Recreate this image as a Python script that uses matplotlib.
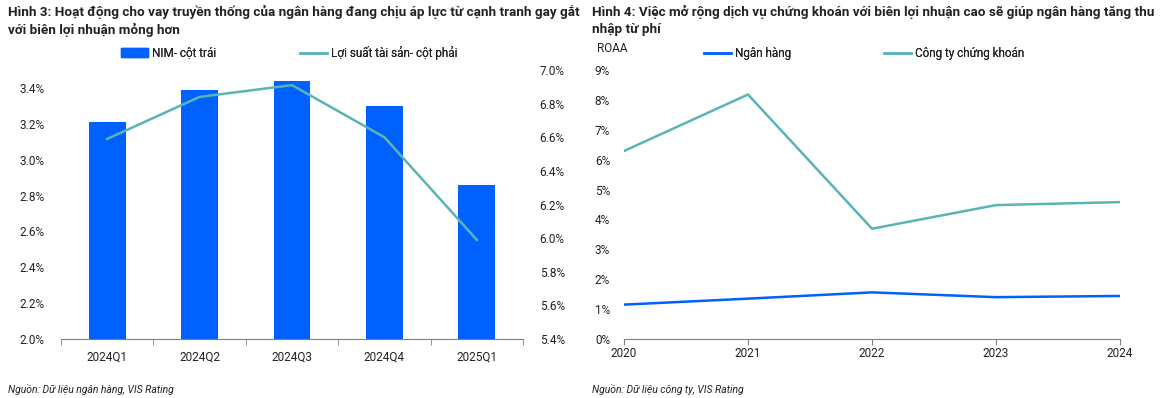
import matplotlib
matplotlib.use('Agg')

import matplotlib.pyplot as plt
from matplotlib.ticker import FuncFormatter
from matplotlib.patches import Patch
from matplotlib.lines import Line2D

plt.rcParams['font.family'] = ['Roboto', 'DejaVu Sans']

# ---------- Data ----------

quarters = ["2024Q1", "2024Q2", "2024Q3", "2024Q4", "2025Q1"]
nim = [3.21, 3.39, 3.44, 3.30, 2.86]
asset_yield = [6.59, 6.84, 6.91, 6.60, 5.99]

years = ["2020", "2021", "2022", "2023", "2024"]
roaa_bank = [1.15, 1.35, 1.56, 1.40, 1.44]
roaa_securities = [6.29, 8.18, 3.69, 4.48, 4.58]

blue = "#0061FE"
teal = "#5AB4B4"
gray = "#808080"
txt = "#222222"

W, H = 1174, 398
fig = plt.figure(figsize=(W / 100, H / 100), dpi=100)


def px(x0, y0, x1, y1):
    return [x0 / W, 1 - y1 / H, (x1 - x0) / W, (y1 - y0) / H]


def legend_at(handle, x, y):
    leg = fig.legend(handles=[handle], loc="center left", bbox_to_anchor=(x / W, 1 - y / H),
                     frameon=False, fontsize=8.5, handlelength=2.3, handletextpad=0.3,
                     borderaxespad=0, borderpad=0, labelcolor=txt)
    fig.add_artist(leg)


# ---------- Hinh 3 ----------

ax1 = fig.add_axes(px(61, 70, 523, 339))
xpos = list(range(len(quarters)))
ax1.bar(xpos, nim, width=0.4, color=blue, zorder=2)
ax1.set_ylim(2.0, 3.5)
ax1.set_yticks([2.0, 2.2, 2.4, 2.6, 2.8, 3.0, 3.2, 3.4])
ax1.yaxis.set_major_formatter(FuncFormatter(lambda v, p: f"{v:.1f}%"))
ax1.set_xlim(-0.5, len(quarters) - 0.5)
ax1.set_xticks(xpos)
ax1.set_xticklabels(quarters)
ax1.set_xticks([i - 0.5 for i in range(len(quarters) + 1)], minor=True)
ax1.tick_params(axis='x', which='major', length=0, pad=8, labelsize=8.5, colors=txt)
ax1.tick_params(axis='x', which='minor', length=4, color=gray, direction='out')
ax1.tick_params(axis='y', length=0, pad=12, labelsize=8.5, colors=txt)
for s in ["top", "left", "right"]:
    ax1.spines[s].set_visible(False)
ax1.spines["bottom"].set_color(gray)

ax1b = ax1.twinx()
ax1b.plot(xpos, asset_yield, color=teal, lw=1.8, zorder=3)
ax1b.set_ylim(5.4, 7.0)
ax1b.set_yticks([5.4, 5.6, 5.8, 6.0, 6.2, 6.4, 6.6, 6.8, 7.0])
ax1b.yaxis.set_major_formatter(FuncFormatter(lambda v, p: f"{v:.1f}%"))
ax1b.tick_params(axis='y', length=0, pad=12, labelsize=8.5, colors=txt)
for s in ["top", "left", "right", "bottom"]:
    ax1b.spines[s].set_visible(False)

legend_at(Patch(color=blue, label="NIM- cột trái"), 121, 53)
legend_at(Line2D([], [], color=teal, lw=1.8, label="Lợi suất tài sản- cột phải"), 300, 53)

fig.text(8 / W, 1 - 5 / H,
         "Hình 3: Hoạt động cho vay truyền thống của ngân hàng đang chịu áp lực từ cạnh tranh gay gắt\nvới biên lợi nhuận mỏng hơn",
         fontsize=9.7, fontweight="bold", color=txt, va="top", linespacing=1.35)
fig.text(8 / W, 1 - 390 / H, "Nguồn: Dữ liệu ngân hàng, VIS Rating",
         fontsize=7.5, style="italic", color=txt, va="center")

# ---------- Hinh 4 ----------

ax2 = fig.add_axes(px(624, 70, 1120, 339))
xr = list(range(len(years)))
ax2.plot(xr, roaa_bank, color=blue, lw=1.8, label="Ngân hàng")
ax2.plot(xr, roaa_securities, color=teal, lw=1.8, label="Công ty chứng khoán")
ax2.set_ylim(0, 9)
ax2.set_yticks(range(0, 10))
ax2.yaxis.set_major_formatter(FuncFormatter(lambda v, p: f"{int(v)}%"))
ax2.set_xlim(0, len(years) - 1)
ax2.set_xticks(xr)
ax2.set_xticklabels(years)
ax2.tick_params(axis='x', length=4, color=gray, pad=2, labelsize=8.5, labelcolor=txt)
ax2.tick_params(axis='y', length=0, pad=10, labelsize=8.5, colors=txt)
for s in ["top", "left", "right"]:
    ax2.spines[s].set_visible(False)
ax2.spines["bottom"].set_color(gray)

lines = ax2.get_lines()
legend_at(lines[0], 704, 54)
legend_at(lines[1], 884, 54)

fig.text(597 / W, 1 - 48 / H, "ROAA", fontsize=8.5, color=txt, va="center")
fig.text(592 / W, 1 - 5 / H,
         "Hình 4: Việc mở rộng dịch vụ chứng khoán với biên lợi nhuận cao sẽ giúp ngân hàng tăng thu\nnhập từ phí",
         fontsize=9.7, fontweight="bold", color=txt, va="top", linespacing=1.35)
fig.text(592 / W, 1 - 390 / H, "Nguồn: Dữ liệu công ty, VIS Rating",
         fontsize=7.5, style="italic", color=txt, va="center")

fig.savefig("out.png", dpi=100, facecolor="white")
